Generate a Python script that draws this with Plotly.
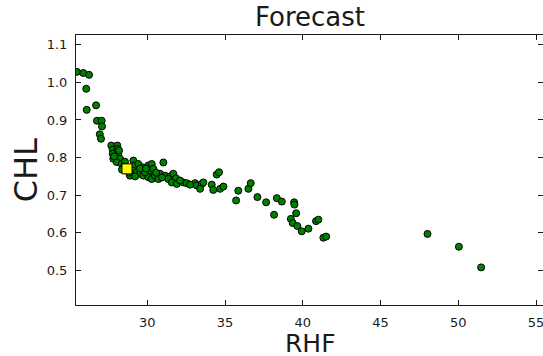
import plotly.graph_objects as go

# RHF / CHL forecast sample
rhf = [25.47, 25.88, 26.25, 26.07, 26.10, 26.70, 26.76, 27.06, 27.08, 26.94, 27.02,
       27.68, 28.07, 27.77, 28.08, 27.77, 28.13, 27.81, 28.24, 28.03, 28.35, 28.56,
       29.10, 29.16, 29.42, 29.70, 30.06, 30.28, 30.17, 30.38, 31.03, 30.82, 31.14,
       31.46, 31.67, 31.84, 29.10, 29.32, 29.53, 29.74, 30.06, 30.28, 30.49, 30.71,
       31.35, 31.57, 31.89, 28.88, 29.21, 29.85, 32.31, 32.53, 33.07, 33.18, 33.50,
       33.60, 33.39, 34.14, 34.24, 34.46, 34.61, 34.68, 34.89, 35.71, 35.85, 36.50,
       36.65, 37.08, 37.64, 38.15, 38.33, 38.65, 39.44, 39.46, 39.57, 39.23, 39.35,
       39.65, 39.93, 40.36, 40.85, 41.00, 41.32, 41.50, 48.02, 50.04, 51.47,
       28.50, 28.82, 28.37, 29.53, 29.91, 30.56, 30.94, 32.10, 32.75, 27.86, 28.18]
chl = [1.028, 1.025, 1.020, 0.983, 0.927, 0.939, 0.898, 0.898, 0.883, 0.862, 0.850,
       0.832, 0.832, 0.821, 0.823, 0.810, 0.810, 0.797, 0.797, 0.788, 0.783, 0.789,
       0.792, 0.779, 0.783, 0.774, 0.779, 0.783, 0.765, 0.770, 0.787, 0.757, 0.752,
       0.750, 0.757, 0.745, 0.765, 0.761, 0.757, 0.752, 0.748, 0.743, 0.752, 0.743,
       0.743, 0.734, 0.730, 0.752, 0.750, 0.761, 0.734, 0.732, 0.732, 0.726, 0.730,
       0.734, 0.717, 0.728, 0.714, 0.755, 0.761, 0.717, 0.723, 0.686, 0.712, 0.717,
       0.732, 0.695, 0.681, 0.648, 0.692, 0.683, 0.681, 0.675, 0.652, 0.637, 0.626,
       0.618, 0.604, 0.611, 0.631, 0.635, 0.587, 0.590, 0.597, 0.563, 0.508,
       0.776, 0.760, 0.768, 0.771, 0.771, 0.760, 0.747, 0.739, 0.728, 0.803, 0.819]

# highlighted forecast point
fc_rhf = [28.69]
fc_chl = [0.770]

x_ticks = [30, 35, 40, 45, 50, 55]
y_ticks = [0.5, 0.6, 0.7, 0.8, 0.9, 1.0, 1.1]

FONT = "DejaVu Sans"
INK = "#1a1a1a"

fig = go.Figure()
fig.add_trace(go.Scatter(
    x=rhf, y=chl, mode="markers",
    marker=dict(size=7, color="#008000", line=dict(color="black", width=1)),
    showlegend=False, hoverinfo="x+y",
))
fig.add_trace(go.Scatter(
    x=fc_rhf, y=fc_chl, mode="markers",
    marker=dict(size=10, symbol="square", color="#ffff00", line=dict(color="black", width=1)),
    showlegend=False, hoverinfo="x+y",
))

axis_common = dict(
    showgrid=False, zeroline=False, showline=True, linecolor=INK, linewidth=1,
    mirror="ticks", ticks="inside", ticklen=5, tickwidth=1, tickcolor=INK,
    tickfont=dict(family=FONT, size=13, color=INK), ticklabelstandoff=5,
    ticklabeloverflow="allow",
)

fig.update_layout(
    width=543, height=356,
    margin=dict(l=76, r=0, t=35, b=51),
    paper_bgcolor="white", plot_bgcolor="white",
    font=dict(family=FONT, color=INK),
    xaxis=dict(range=[25.41, 55.45], tickvals=x_ticks,
               ticktext=[str(v) for v in x_ticks], **axis_common),
    yaxis=dict(range=[0.408, 1.126], tickvals=y_ticks,
               ticktext=[f"{v:.1f}" for v in y_ticks], **axis_common),
    annotations=[
        dict(text="Forecast", xref="paper", yref="paper", x=(309.5 - 76) / 467, y=1,
             yshift=18, xanchor="center", yanchor="middle", showarrow=False,
             font=dict(family=FONT, size=26, color=INK)),
        dict(text="RHF", xref="paper", yref="paper", x=(310 - 76) / 467, y=0,
             yshift=-38, xanchor="center", yanchor="middle", showarrow=False,
             height=22, font=dict(family=FONT, size=25, color=INK)),
        dict(text="CHL", xref="paper", yref="paper", x=0, y=(304.7 - 170) / 270,
             xshift=-50, xanchor="center", yanchor="middle", textangle=-90,
             showarrow=False, font=dict(family=FONT, size=32, color=INK)),
    ],
)

fig.write_html("out.html")
